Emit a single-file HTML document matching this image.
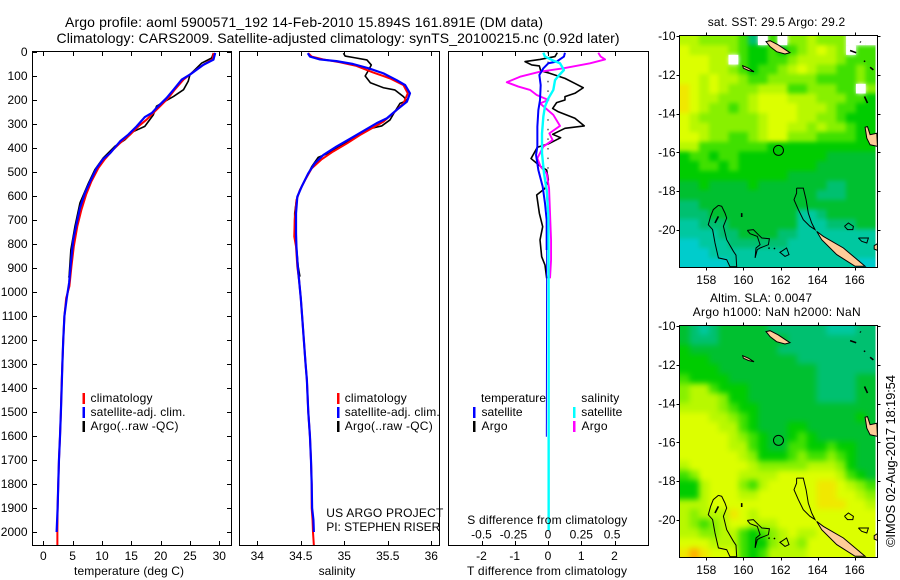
<!DOCTYPE html>
<html lang="en">
<head>
<meta charset="utf-8">
<title>Argo profile 5900571_192</title>
<style>
html,body{margin:0;padding:0;background:#fff;}
svg{display:block;}
text{font-family:"Liberation Sans",sans-serif;font-size:12px;fill:#000;}
.ttl{font-size:14px;}
</style>
</head>
<body>
<svg id="fig" xmlns="http://www.w3.org/2000/svg" width="900" height="580" viewBox="0 0 900 580">
<defs>
<clipPath id="clipA"><rect x="679.5" y="35.5" width="196" height="232"/></clipPath>
<clipPath id="clipB"><rect x="679.5" y="325.5" width="196" height="232"/></clipPath>
<clipPath id="clipGeoA"><rect x="679.5" y="35.5" width="198" height="232"/></clipPath>
<clipPath id="clipGeoB"><rect x="679.5" y="325.5" width="198" height="232"/></clipPath>
<filter id="blurA" filterUnits="userSpaceOnUse" x="650" y="0" width="250" height="300" color-interpolation-filters="sRGB"><feGaussianBlur stdDeviation="2"/></filter>
<filter id="blurB" filterUnits="userSpaceOnUse" x="650" y="290" width="250" height="290" color-interpolation-filters="sRGB"><feGaussianBlur stdDeviation="3"/></filter>
</defs>
<text class="ttl" x="65" y="27" textLength="478">Argo profile: aoml 5900571_192 14-Feb-2010 15.894S 161.891E (DM data)</text>
<text class="ttl" x="56.5" y="43" textLength="563">Climatology: CARS2009. Satellite-adjusted climatology: synTS_20100215.nc (0.92d later)</text>

<g id="p1"></g>
<g id="p2"></g>
<g id="p3"></g>
<g id="m1"></g>
<g id="m2"></g>

<text x="129" y="575" text-anchor="middle" textLength="110">temperature (deg C)</text>
<text x="337" y="575" text-anchor="middle">salinity</text>
<text x="467" y="575" textLength="160">T difference from climatology</text>
<text x="467.3" y="524" textLength="160">S difference from climatology</text>

<g>
<rect x="82.5" y="393" width="2.5" height="11" fill="#f00"/>
<rect x="82.5" y="407" width="2.5" height="11" fill="#00f"/>
<rect x="82.5" y="421" width="2.5" height="11" fill="#000"/>
<text x="90.5" y="402" textLength="62">climatology</text>
<text x="90.5" y="416" textLength="95">satellite-adj. clim.</text>
<text x="90.5" y="430" textLength="88">Argo(..raw -QC)</text>
</g>
<g>
<rect x="337" y="393" width="2.5" height="11" fill="#f00"/>
<rect x="337" y="407" width="2.5" height="11" fill="#00f"/>
<rect x="337" y="421" width="2.5" height="11" fill="#000"/>
<text x="344.7" y="402" textLength="62">climatology</text>
<text x="344.7" y="416" textLength="95">satellite-adj. clim.</text>
<text x="344.7" y="430" textLength="88">Argo(..raw -QC)</text>
</g>
<g>
<text x="481" y="402" textLength="65">temperature</text>
<rect x="473" y="407" width="2.5" height="11" fill="#00f"/>
<rect x="473" y="421" width="2.5" height="11" fill="#000"/>
<text x="481.5" y="416" textLength="41">satellite</text>
<text x="481.5" y="430" textLength="26">Argo</text>
<text x="581.3" y="402" textLength="38">salinity</text>
<rect x="573" y="407" width="2.5" height="11" fill="#0ff"/>
<rect x="573" y="421" width="2.5" height="11" fill="#f0f"/>
<text x="581.3" y="416" textLength="41">satellite</text>
<text x="581.5" y="430" textLength="26">Argo</text>
</g>
<text x="326.3" y="517" textLength="117">US ARGO PROJECT</text>
<text x="326.3" y="531" textLength="114">PI: STEPHEN RISER</text>

<text x="707.7" y="26" textLength="137.5">sat. SST: 29.5  Argo: 29.2</text>
<text x="710" y="302" textLength="102">Altim. SLA: 0.0047</text>
<text x="692.7" y="316" textLength="168">Argo h1000: NaN h2000: NaN</text>
<text style="font-size:13px" transform="translate(895,547) rotate(-90)" textLength="172">©IMOS 02-Aug-2017 18:19:54</text>
</svg>

<script>
/* ---------- profile data ---------- */
const depthTicks = [0,100,200,300,400,500,600,700,800,900,1000,1100,1200,1300,1400,1500,1600,1700,1800,1900,2000];
const tempTicks = [0,5,10,15,20,25,30];
const salTicks = [34,34.5,35,35.5,36];
const tDiffTicks = [-2,-1,0,1,2];
const sDiffTicks = [-0.5,-0.25,0,0.25,0.5];
const sDiffLabelShift = [0,-1.3,0,0,-2.4];

const tempClimDepth = [4,29,53,88,115,157,192,226,254,282,310,344,372,407,446,483,539,594,657,726,810,893,976,1025,1100,1200,1300,1400,1500,1600,1700,1800,1900,2000,2055];
const tempClimValues = [29,28.9,27.3,25.3,23.9,22.4,21.3,19.9,18.75,17.6,16.2,14.8,13.4,11.9,10.5,9.4,8.2,7.3,6.5,5.8,5.2,4.8,4.45,3.9,3.6,3.4,3.25,3.1,3,2.85,2.67,2.55,2.44,2.4,2.4];
const tempSatDepth = [4,32,53,94,115,157,192,233,254,271,310,344,372,421,446,483,539,587,650,712,782,879,962,1025,1100,1200,1300,1400,1500,1600,1700,1800,1900,2000];
const tempSatValues = [29.3,29,27.3,25,23.6,22.2,21,19.3,18.5,17.3,15.9,14.5,13.1,11.4,10.2,9.1,8,7.1,6.25,5.7,5.1,4.7,4.4,4,3.6,3.4,3.25,3.13,3,2.85,2.67,2.55,2.44,2.27];
const tempArgoDepth = [4,25,46,94,122,157,185,206,226,262,310,332,366,393,442,490,546,629,726,824,936,940];
const tempArgoValues = [29,28.7,27,25,24.7,23.9,22.2,20.7,19.3,18.75,17.3,15.3,13.9,12.2,10.2,8.8,7.7,6.25,5.4,4.7,4.4,4.3];

const salClimDepth = [5,19,31,43,58,85,110,138,172,214,249,290,315,346,381,415,447,485,533,575,617,700,769,811,894,950,1026,1100,1200,1300,1367,1500,1600,1700,1800,1900,1950,2000,2055];
const salClimValues = [34.586,34.625,34.76,34.95,35.14,35.33,35.525,35.68,35.73,35.68,35.58,35.45,35.33,35.18,35.03,34.87,34.74,34.625,34.55,34.49,34.45,34.43,34.425,34.445,34.46,34.48,34.5,34.515,34.535,34.555,34.57,34.586,34.605,34.617,34.625,34.625,34.635,34.64,34.65];
const salSatDepth = [5,19,31,38,50,68,89,117,138,172,207,242,276,297,329,362,394,429,464,506,561,603,672,756,811,894,950,1026,1100,1200,1300,1367,1500,1600,1700,1800,1900,1950,2000];
const salSatValues = [34.58,34.605,34.72,34.91,35.1,35.28,35.45,35.6,35.7,35.755,35.72,35.6,35.49,35.37,35.22,35.065,34.91,34.76,34.66,34.585,34.51,34.46,34.445,34.445,34.45,34.465,34.48,34.5,34.515,34.535,34.555,34.57,34.586,34.605,34.617,34.625,34.63,34.645,34.65];
const salArgoDepth = [5,17,24,33,54,75,100,128,149,158,186,203,214,249,283,308,318,339,367,394,422,439,478,533,575,617,672,728,811,894,936];
const salArgoValues = [34.99,35.01,35.12,35.26,35.31,35.28,35.24,35.3,35.45,35.58,35.68,35.72,35.64,35.58,35.525,35.43,35.31,35.2,35.065,34.95,34.815,34.7,34.625,34.55,34.49,34.45,34.43,34.43,34.45,34.47,34.49];

const dotDepths = [0,40,80,120,160,200,240,280,320,360,400,440,480];
const tDiffSatDepth = [3,19,40,47,68,96,138,200,242,311,394,429,492,561,631,700,825];
const tDiffSatValues = [0.51,0.48,0.26,0.01,-0.14,-0.26,-0.22,-0.24,-0.29,-0.32,-0.32,-0.36,-0.29,-0.16,-0.09,-0.04,-0.04];
const tDiffSatDeepDepth = [825,1603];
const tDiffSatDeepValues = [-0.04,-0.05];
const tDiffArgoDepth = [3,19,31,40,54,58,78,89,110,131,149,172,186,200,211,235,249,276,308,318,343,357,383,397,444,475,492,533,568,596,672,728,783,853,888,943];
const tDiffArgoValues = [0.28,0.21,-0.24,-0.69,-0.49,-0.26,-0.22,0.06,0.51,0.81,1.06,0.81,0.51,0.51,0.26,0.14,0.31,0.81,1.09,0.51,0.14,0.38,0.01,-0.32,-0.51,-0.24,-0.04,0.01,-0.09,-0.34,-0.26,-0.16,-0.24,-0.19,-0.09,-0.04];
const sDiffSatDepth = [3,19,36,47,75,100,117,158,193,228,269,339,422,506,575,686,1033,1992];
const sDiffSatValues = [-0.035,-0.023,0.04,0.09,0.12,0.078,0.053,0.04,0.003,-0.023,-0.035,-0.045,-0.045,-0.03,-0.01,0.003,0.005,0.005];
const sDiffArgoDepth = [3,19,31,47,68,82,103,126,144,158,179,200,214,262,308,339,367,394,443,478,506,568,783,867,943];
const sDiffArgoValues = [0.378,0.396,0.429,0.316,0.115,-0.06,-0.21,-0.31,-0.223,-0.135,-0.085,0.003,-0.06,0.04,0.09,0.01,0.035,-0.035,-0.08,-0.055,-0.01,0.008,0.023,0.023,0.015];

/* ---------- map data ---------- */
const lonTicks = [158,160,162,164,166];
const latTicks = [-10,-12,-14,-16,-18,-20];
const profileLon = 161.891;
const profileLat = -15.894;
const n = null;
const sstGrid = [
[7,7,6,6,6,6,5,2,n,5,n,6,6,7,6,6,6,n,n,n],
[8,7,7,7,7,6,5,4,4,5,4,5,6,7,8,7,6,n,5,5],
[8,8,8,7,7,n,5,4,4,5,5,6,7,7,7,7,6,5,5,5],
[8,8,8,7,7,6,5,4,5,5,6,7,8,7,6,6,5,5,6,5],
[8,8,7,8,7,7,6,5,5,6,6,6,6,6,5,5,5,5,6,5],
[9,8,7,8,7,6,6,6,7,7,7,5,5,6,6,6,5,5,n,6],
[9,8,7,7,6,6,6,7,8,8,8,7,7,7,6,6,6,5,5,4],
[9,8,7,6,6,5,6,7,8,8,8,8,7,7,7,6,5,5,4,4],
[8,7,6,6,6,6,6,6,7,8,8,8,7,7,6,6,5,4,4,4],
[8,7,7,6,6,6,6,6,7,8,8,7,7,6,7,6,6,5,4,4],
[8,8,7,6,6,5,5,6,7,8,8,6,6,6,5,5,5,5,4,4],
[7,7,5,5,5,5,5,5,5,4,4,4,4,4,4,4,4,4,4,4],
[4,5,5,4,5,5,4,4,4,4,4,4,4,4,4,3,3,3,3,3],
[4,4,5,5,4,5,4,4,4,4,4,4,4,4,3,3,3,3,3,3],
[4,4,4,4,4,4,4,4,4,4,4,3,3,3,3,3,3,3,3,3],
[3,3,4,3,3,3,3,4,3,3,3,3,3,3,3,2,2,3,3,3],
[3,3,3,3,3,3,3,3,3,3,3,3,3,3,2,2,2,3,3,3],
[2,2,3,3,3,3,3,3,3,3,3,3,3,3,3,3,3,3,3,3],
[2,2,2,3,3,3,3,3,3,3,3,3,1,1,2,3,3,3,3,3],
[1,1,2,2,2,3,3,3,3,3,3,3,1,1,1,2,2,2,3,3],
[1,1,1,1,2,2,3,3,3,3,2,2,1,1,1,1,1,1,1,1],
[0,0,1,1,1,2,2,2,2,2,2,1,1,1,1,1,1,1,1,1],
[0,0,0,1,1,1,1,1,1,1,1,1,1,1,1,1,1,1,1,1],
[0,0,0,0,0,1,1,1,1,1,1,1,1,1,1,1,1,1,0,0]
];
const slaGrid = [
[3,2,1,2,3,3,3,3,3,2,2,2,2,2,2,1,1,1,2,2],
[3,2,2,2,3,3,3,3,3,3,3,2,2,2,2,2,2,2,2,2],
[4,3,3,3,3,3,3,3,3,3,2,2,2,2,2,2,2,2,2,2],
[4,4,4,3,3,3,3,3,3,3,3,3,2,2,2,2,2,2,2,2],
[4,4,4,4,3,3,3,3,3,3,3,3,3,3,2,2,2,2,2,2],
[5,4,4,4,4,3,3,3,3,3,3,3,3,3,2,2,2,2,3,3],
[6,7,7,5,4,4,4,3,3,3,3,3,3,3,2,2,2,2,3,3],
[6,7,7,7,6,4,4,3,3,3,3,3,3,3,2,2,2,2,3,3],
[7,7,7,7,6,5,4,4,3,3,3,3,3,3,3,3,3,3,3,3],
[8,8,8,7,7,6,5,4,3,3,3,3,3,3,3,3,3,3,4,3],
[8,8,8,8,7,7,5,4,3,3,3,4,4,3,3,3,3,3,3,3],
[8,8,8,8,8,7,6,5,4,3,3,4,5,4,3,3,3,3,3,3],
[8,8,8,8,8,7,7,5,4,3,3,5,5,4,4,5,4,4,3,3],
[8,8,8,8,8,8,7,6,4,4,4,5,6,5,5,6,5,4,3,3],
[7,8,8,8,8,8,8,7,6,6,6,6,6,7,7,7,6,4,3,3],
[5,6,8,8,8,8,7,7,7,7,8,8,8,8,8,8,7,5,4,3],
[4,4,7,8,8,8,6,5,7,8,8,8,8,8,9,9,8,7,6,5],
[4,4,7,8,8,8,7,7,8,8,8,8,8,8,9,9,8,8,7,6],
[7,7,7,8,8,8,8,8,8,8,8,8,8,8,9,9,9,8,8,7],
[7,6,7,7,7,9,8,7,8,8,8,8,8,8,8,8,8,8,8,8],
[7,6,5,6,7,8,8,7,7,7,8,8,8,8,8,8,8,8,8,8],
[7,7,6,6,7,7,5,4,5,6,7,8,7,7,8,8,8,8,8,8],
[8,8,8,7,7,7,5,4,4,6,7,7,6,8,8,8,8,8,8,8],
[9,10,9,8,8,8,5,4,5,7,7,7,7,8,8,8,8,8,8,8]
];
const heatColors = ["#00cccc","#00c8a0","#00c070","#00c030","#00cc00","#40e000","#88f000","#b8f800","#dcff00","#f0e800","#ffb000"];

const landShapes = [
[[161.22,-10.29],[161.44,-10.24],[161.88,-10.46],[162.24,-10.69],[162.51,-10.86],[162.24,-10.93],[161.79,-10.81],[161.44,-10.55]],
[[159.96,-11.53],[160.27,-11.66],[160.57,-11.84],[160.27,-11.78],[160,-11.66]],
[[166.56,-14.7],[166.69,-14.67],[166.83,-15.09],[167.19,-15.01],[167.23,-15.69],[166.83,-15.61],[166.65,-15.27]],
[[163.95,-20.07],[164.31,-20.33],[165.39,-20.93],[166.56,-21.87],[166.02,-21.87],[165.03,-21.27],[164.22,-20.5]],
[[167.05,-20.81],[167.23,-20.7],[167.23,-21.05],[167.05,-20.98]]
];
const reefShapes = [
[[158.65,-18.73],[158.83,-18.78],[159.01,-19.13],[159.1,-19.38],[158.92,-19.81],[159.1,-20.5],[159.46,-21.1],[159.6,-21.3],[159.64,-21.89],[159.28,-21.89],[159.1,-21.53],[158.65,-21.44],[158.47,-20.67],[158.34,-19.98],[158.11,-19.73],[158.23,-19.3],[158.38,-18.95],[158.65,-18.73]],
[[160.21,-20.02],[160.54,-19.98],[160.81,-20.24],[160.99,-20.41],[161.4,-20.45],[161.35,-20.76],[160.9,-20.93],[160.75,-21.01],[160.63,-21.44],[160.68,-20.93],[160.9,-20.76],[160.75,-20.33],[160.36,-20.19],[160.21,-20.02]],
[[162.06,-21.1],[162.33,-20.93],[162.46,-21.27],[162.24,-21.36],[161.97,-21.15],[162.06,-21.1]],
[[162.87,-17.84],[163.23,-17.84],[163.38,-18.44],[163.5,-19.13],[163.68,-19.64],[163.86,-19.98],[163.59,-19.81],[163.23,-19.47],[162.96,-18.95],[162.73,-18.44],[162.87,-18.1],[162.87,-17.84]],
[[165.45,-19.81],[165.66,-19.64],[165.93,-19.81],[165.9,-19.98],[165.61,-19.98],[165.45,-19.81]],
[[166.2,-20.41],[166.74,-20.41],[166.65,-20.67],[166.38,-20.58],[166.2,-20.41]]
];
const islets = [
[[159.91,-19.13],[159.91,-19.33]],
[[158.47,-19.64],[158.65,-19.3]],
[[166.53,-13.12],[166.69,-13.46]],
[[166.83,-11.61],[167.01,-11.75]],
[[165.75,-10.75],[166.08,-10.86]],
[[166.29,-10.29],[166.33,-10.33]],
[[166.51,-11.27],[166.55,-11.33]],
[[161.65,-20.93],[161.7,-20.98]],
[[161.35,-20.93],[161.42,-20.95]]
];

/* ---------- axis functions ---------- */
const NS = "http://www.w3.org/2000/svg";
const panelTop = 51.5, panelBottom = 545.5;
function yDepth(d){ return 52 + 0.24*d; }
function xTemp(v){ return 43.3 + 5.867*v; }
function xSal(v){ return 257.3 + 87*(v-34); }
function xTDiff(v){ return 548 + 33.25*v; }
function xSDiff(v){ return 548 + 133*v; }
function xLon(lon){ return 706.3 + 18.55*(lon-158); }
function yLat(lat, off){ return 36 + off + 19.4*(-10-lat); }

function el(tag, parent, attrs){
  const e = document.createElementNS(NS, tag);
  for (const k in attrs) e.setAttribute(k, attrs[k]);
  parent.appendChild(e);
  return e;
}
function profile(parent, name, depths, values, xf, color, w){
  const pts = depths.map((d,i)=> xf(values[i]).toFixed(2)+","+yDepth(d).toFixed(2)).join(" ");
  const line = el("polyline", parent, {points:pts, fill:"none", stroke:color, "stroke-width":w, "stroke-linejoin":"round"});
  
  
}
function tick(parent, x1, y1, x2, y2){
  const t = el("line", parent, {x1:x1, y1:y1, x2:x2, y2:y2, stroke:"#000", "stroke-width":1});
  
  
}
function label(parent, x, y, anchor, str){
  const t = el("text", parent, {x:x, y:y, "text-anchor":anchor});
  t.textContent = str;
  
  
}
function frame(parent, x, y, w, h){
  const r = el("rect", parent, {x:x, y:y, width:w, height:h, fill:"none", stroke:"#000", "stroke-width":1});
  
  
}
function panelXTicks(parent, ticks, xf){
  ticks.forEach(v=>{
    const x = Math.round(xf(v))+0.5;
    tick(parent, x, panelTop, x, panelTop+4.5);
    tick(parent, x, panelBottom, x, panelBottom-4.5);
    label(parent, xf(v), 560, "middle", String(v));
  });
}

/* ---------- temperature panel ---------- */
const p1 = document.getElementById("p1");
profile(p1, "temperature-argo-line", tempArgoDepth, tempArgoValues, xTemp, "#000", 1.6);
profile(p1, "temperature-climatology-line", tempClimDepth, tempClimValues, xTemp, "#f00", 2);
profile(p1, "temperature-satellite-line", tempSatDepth, tempSatValues, xTemp, "#00f", 2.2);
frame(p1, 32.5, panelTop, 199, panelBottom-panelTop);
panelXTicks(p1, tempTicks, xTemp);
depthTicks.forEach(d=>{
  const y = Math.round(yDepth(d))+0.5;
  tick(p1, 32.5, y, 37, y);
  tick(p1, 231.5, y, 227, y);
  label(p1, 27.5, yDepth(d)+4, "end", String(d));
});

/* ---------- salinity panel ---------- */
const p2 = document.getElementById("p2");
profile(p2, "salinity-argo-line", salArgoDepth, salArgoValues, xSal, "#000", 1.6);
profile(p2, "salinity-climatology-line", salClimDepth, salClimValues, xSal, "#f00", 2);
profile(p2, "salinity-satellite-line", salSatDepth, salSatValues, xSal, "#00f", 2.2);
frame(p2, 239.5, panelTop, 200, panelBottom-panelTop);
panelXTicks(p2, salTicks, xSal);

/* ---------- difference panel ---------- */
const p3 = document.getElementById("p3");
dotDepths.forEach(d=>{
  const dot = el("rect", p3, {x:547.5, y:yDepth(d), width:1, height:1.5, fill:"#000"});
  
  
});
profile(p3, "t-difference-argo-line", tDiffArgoDepth, tDiffArgoValues, xTDiff, "#000", 1.6);
profile(p3, "s-difference-argo-line", sDiffArgoDepth, sDiffArgoValues, xSDiff, "#f0f", 1.9);
profile(p3, "t-difference-satellite-line", tDiffSatDepth, tDiffSatValues, xTDiff, "#00f", 2);
profile(p3, "t-difference-satellite-deep-line", tDiffSatDeepDepth, tDiffSatDeepValues, xTDiff, "#00f", 1);
profile(p3, "s-difference-satellite-line", sDiffSatDepth, sDiffSatValues, xSDiff, "#0ff", 2.4);
frame(p3, 448.5, panelTop, 200, panelBottom-panelTop);
panelXTicks(p3, tDiffTicks, xTDiff);
sDiffTicks.forEach((v,i)=>{
  label(p3, xSDiff(v)+sDiffLabelShift[i], 538.7, "middle", String(v));
});

/* ---------- maps ---------- */
function drawMap(id, grid, off, clip, geoClip, blur){
  const g = document.getElementById(id);
  const left = 679.5, cellW = 9.8, top = 35.5+off, cellH = 232/grid.length;
  const pad = 12;
  const clipped = el("g", g, {"clip-path":"url(#"+clip+")"});
  
  
  const cells = el("g", clipped, {filter:"url(#"+blur+")", "shape-rendering":"crispEdges"});
  
  
  const lastR = grid.length-1;
  grid.forEach((row,r)=>row.forEach((v,c)=>{
    if (v===null) return;
    const x0 = left+c*cellW-(c===0?pad:0);
    const y0 = top+r*cellH-(r===0?pad:0);
    const w = cellW+0.4+(c===0?pad:0)+(c===row.length-1?pad:0);
    const h = cellH+0.4+(r===0?pad:0)+(r===lastR?pad:0);
    const cell = el("rect", cells, {x:x0, y:y0, width:w, height:h, fill:heatColors[v]});
    
    
  }));
  grid.forEach((row,r)=>row.forEach((v,c)=>{
    if (v!==null) return;
    const gap = el("rect", clipped, {x:left+c*cellW, y:top+r*cellH, width:cellW, height:cellH, fill:"#fff"});
    
    
  }));
  const geo = el("g", g, {"clip-path":"url(#"+geoClip+")"});
  
  
  const pt = p => xLon(p[0]).toFixed(1)+","+yLat(p[1],off).toFixed(1);
  landShapes.forEach(s=>{
    const land = el("polygon", geo, {points:s.map(pt).join(" "), fill:"#ffcc99", stroke:"#000", "stroke-width":1});
    
    
  });
  reefShapes.forEach(s=>{
    const reef = el("polyline", geo, {points:s.map(pt).join(" "), fill:"none", stroke:"#000", "stroke-width":1});
    
    
  });
  islets.forEach(s=>{
    const islet = el("polyline", geo, {points:s.map(pt).join(" "), fill:"none", stroke:"#000", "stroke-width":1.6});
    
    
  });
  const marker = el("circle", g, {cx:xLon(profileLon), cy:yLat(profileLat,off), r:5, fill:"none", stroke:"#000", "stroke-width":1});
  
  
  frame(g, 679.5, 35.5+off, 198, 232);
  lonTicks.forEach(v=>{
    const x = Math.round(xLon(v))+0.5;
    tick(g, x, 35.5+off, x, 32.5+off);
    tick(g, x, 267.5+off, x, 270.5+off);
    label(g, xLon(v), 284+off, "middle", String(v));
  });
  latTicks.forEach(v=>{
    const y = Math.round(yLat(v,off))+0.5;
    tick(g, 679.5, y, 676.5, y);
    tick(g, 877.5, y, 880.5, y);
    label(g, 675.5, yLat(v,off)+4, "end", String(v));
  });
}
drawMap("m1", sstGrid, 0, "clipA", "clipGeoA", "blurA");
drawMap("m2", slaGrid, 290, "clipB", "clipGeoB", "blurB");
</script>
</body>
</html>
